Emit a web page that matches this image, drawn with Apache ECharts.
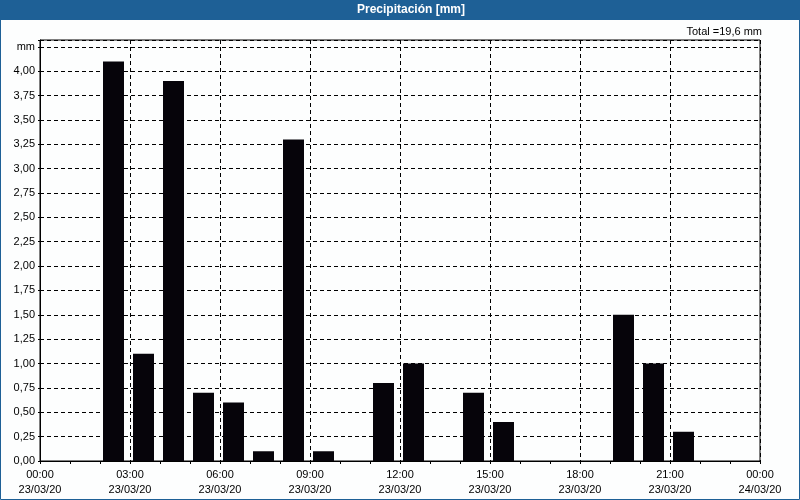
<!DOCTYPE html>
<html>
<head>
<meta charset="utf-8">
<script src="https://cdn.jsdelivr.net/npm/echarts@6/dist/echarts.min.js"></script>
<style>
html,body{margin:0;padding:0;background:#fdfefe;}
#chart{width:800px;height:500px;}
</style>
</head>
<body>
<div id="chart"></div>
<script>
// Hourly periods (start hour) and precipitation in mm
var hours = ['00','01','02','03','04','05','06','07','08','09','10','11','12','13','14','15','16','17','18','19','20','21','22','23'];
var precip = [0, 0, 4.1, 1.1, 3.9, 0.7, 0.6, 0.1, 3.3, 0.1, 0, 0.8, 1.0, 0, 0.7, 0.4, 0, 0, 0, 1.5, 1.0, 0.3, 0, 0];
var xTickLabels = ['00:00\n23/03/20','03:00\n23/03/20','06:00\n23/03/20','09:00\n23/03/20','12:00\n23/03/20','15:00\n23/03/20','18:00\n23/03/20','21:00\n23/03/20','00:00\n24/03/20'];
var titleText = 'Precipitación [mm]';
var unit = 'mm';

var total = precip.reduce(function(a,b){return a+b;},0);
var totalText = 'Total =' + total.toFixed(1).replace('.', ',') + ' ' + unit;

var chart = echarts.init(document.getElementById('chart'), null, {renderer:'canvas'});
var font = 'Liberation Sans';
chart.setOption({
  animation:false,
  backgroundColor:'#fdfefe',
  textStyle:{fontFamily:font},
  graphic:[
    {type:'rect', shape:{x:0,y:0,width:800,height:20}, style:{fill:'#1e6096'}, z:10},
    {type:'rect', shape:{x:0.5,y:0.5,width:799,height:499}, style:{fill:null, stroke:'#1e6096', lineWidth:1}, z:10},
    {type:'text', x:411, y:10, style:{text:titleText, fill:'#ffffff', font:'bold 12px "Liberation Sans"', align:'center', verticalAlign:'middle'}, z:11},
    {type:'text', x:762, y:32, style:{text:totalText, fill:'#000000', font:'11px "Liberation Sans"', align:'right', verticalAlign:'middle'}, z:11}
  ],
  grid:{left:40,right:40,top:40,bottom:39,show:true,borderColor:'#000',borderWidth:1,backgroundColor:'transparent'},
  xAxis:[
    {type:'value', min:0, max:24, interval:3, position:'bottom',
     axisLine:{show:true,lineStyle:{color:'#000',width:1}},
     axisTick:{show:true,length:3,lineStyle:{color:'#000'}},
     minorTick:{show:true,splitNumber:3,length:3,lineStyle:{color:'#000'}},
     splitLine:{show:true,lineStyle:{color:'#000',type:[4,3],width:1}},
     axisLabel:{color:'#000',fontSize:11,fontFamily:font,lineHeight:15,margin:6,
       formatter:function(v){return xTickLabels[Math.round(v/3)];}}
    },
    {type:'category', data:hours, boundaryGap:true, show:false}
  ],
  yAxis:{type:'value', min:0, max:4.32, interval:0.25,
    axisLine:{show:true,lineStyle:{color:'#000',width:1}},
    axisTick:{show:true,length:2,lineStyle:{color:'#000'}},
    splitLine:{show:true,lineStyle:{color:'#000',type:[4,3],width:1}},
    axisLabel:{color:'#000',fontSize:11,fontFamily:font,margin:5,showMaxLabel:true,
      formatter:function(v){
        var r = Math.round(v*100)/100;
        if (Math.abs(r/0.25 - Math.round(r/0.25))>1e-6) return '';
        if (Math.abs(r-4.25)<1e-6) return unit;
        return r.toFixed(2).replace('.', ',');
      }}
  },
  series:[
    {type:'bar', xAxisIndex:1, data:precip, barWidth:21, barGap:0, itemStyle:{color:'#06040a'}, z:3},
    {type:'bar', xAxisIndex:1, data:precip.map(function(){return null;}), barWidth:3, barGap:0, itemStyle:{color:'transparent'}}
  ]
});
</script>
</body>
</html>
